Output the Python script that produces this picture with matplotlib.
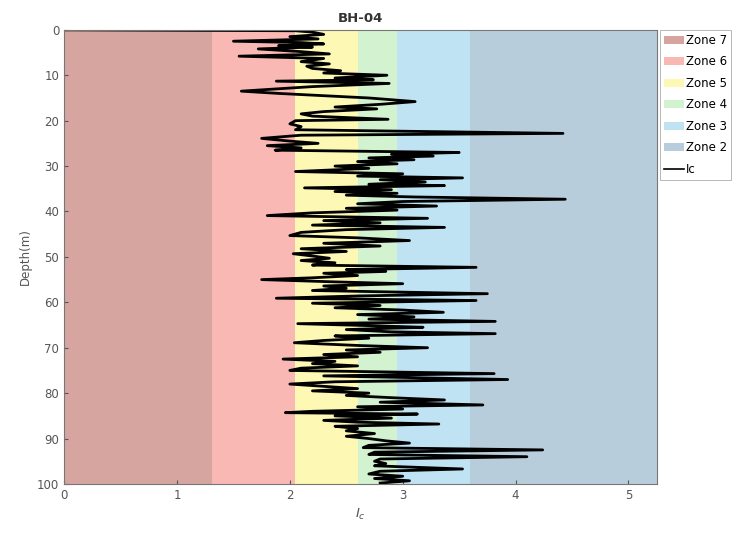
import matplotlib
matplotlib.use("Agg")
import matplotlib.pyplot as plt
from matplotlib.patches import Patch
from matplotlib.lines import Line2D

# Soil behaviour type zones (Robertson), Ic boundaries
zone_names = ["Zone 7", "Zone 6", "Zone 5", "Zone 4", "Zone 3", "Zone 2"]
zone_lo = [0.0, 1.31, 2.05, 2.60, 2.95, 3.60]
zone_hi = [1.31, 2.05, 2.60, 2.95, 3.60, 5.25]
zone_colors = ["#d6a5a0", "#f9b8b3", "#fdf8b4", "#d3f2cf", "#bfe3f2", "#b8cddb"]

# Ic profile
depth = [0.0, 0.2, 0.5, 1.0, 1.5, 2.0, 2.5, 2.8, 3.1, 3.5, 3.8, 4.2, 4.8, 5.3,
         5.8, 6.3, 7.0, 7.5, 8.0, 8.5, 9.0, 9.5, 10.0, 10.6, 11.0, 11.3, 11.8,
         12.5, 13.5, 14.0, 14.5, 15.0, 15.8, 16.4, 17.0, 17.4, 18.0, 18.5, 19.0,
         19.7, 20.0, 20.7, 21.3, 22.0, 22.8, 23.2, 23.9, 24.5, 25.0, 25.5, 26.0,
         26.5, 27.0, 27.4, 27.8, 28.2, 28.6, 29.0, 29.5, 30.0, 30.5, 31.2, 31.7,
         32.2, 32.6, 33.0, 33.5, 34.0, 34.3, 34.8, 35.2, 35.6, 36.0, 36.4, 36.8,
         37.3, 37.8, 38.3, 38.8, 39.3, 39.7, 40.3, 40.9, 41.5, 42.0, 42.5, 43.0,
         43.5, 44.0, 44.6, 45.3, 45.8, 46.4, 47.0, 47.6, 48.2, 48.8, 49.3, 49.8,
         50.3, 50.8, 51.3, 51.8, 52.3, 52.8, 53.2, 53.6, 54.1, 54.6, 55.0, 55.5,
         55.9, 56.4, 56.9, 57.4, 58.1, 58.6, 59.1, 59.6, 60.2, 60.7, 61.2, 61.7,
         62.2, 62.7, 63.2, 63.7, 64.2, 64.7, 65.2, 65.5, 66.0, 66.5, 66.9, 67.4,
         67.9, 68.4, 68.9, 69.5, 70.0, 70.5, 71.0, 71.5, 72.0, 72.5, 73.0, 73.5,
         74.0, 74.5, 75.0, 75.7, 76.2, 77.0, 77.5, 78.0, 78.5, 79.0, 79.5, 80.0,
         80.5, 81.0, 81.5, 82.0, 82.6, 83.0, 83.5, 84.0, 84.3, 84.6, 85.0, 85.5,
         86.0, 86.4, 86.8, 87.3, 87.8, 88.3, 88.9, 89.5, 90.0, 90.5, 91.0, 91.5,
         92.0, 92.5, 93.0, 93.5, 94.0, 94.5, 95.0, 95.5, 96.0, 96.7, 97.2, 97.8,
         98.3, 98.8, 99.3, 99.8]
ic = [0.0, 2.05, 2.2, 2.3, 2.0, 2.25, 1.5, 2.1, 2.3, 1.9, 2.2, 1.72, 2.1, 2.35,
      1.55, 2.3, 2.1, 2.35, 2.15, 2.2, 2.45, 2.3, 2.86, 2.4, 2.74, 1.88, 2.88,
      2.2, 1.57, 1.9, 2.3, 2.7, 3.11, 2.8, 2.4, 2.77, 2.3, 2.1, 2.2,
      2.87, 2.05, 2.0, 2.1, 2.05, 4.42, 2.1, 1.75, 2.0, 2.25, 1.8, 2.1,
      1.87, 3.5, 2.9, 3.27, 2.7, 3.1, 2.6, 2.95, 2.4, 2.7, 2.05, 3.0,
      2.6, 3.53, 2.8, 3.2, 2.7, 3.37, 2.13, 2.9, 2.4, 2.95, 2.5, 3.1,
      4.44, 3.0, 2.6, 3.3, 2.5, 2.95, 2.2, 1.8, 3.22, 2.3, 2.8, 2.2,
      3.37, 2.5, 2.1, 2.0, 2.6, 3.06, 2.3, 2.8, 2.1, 2.5, 2.03, 2.2,
      2.35, 2.1, 2.4, 2.2, 3.65, 2.5, 2.85, 2.3, 2.6, 2.2, 1.75, 2.4,
      3.0, 2.3, 2.5, 2.2, 3.75, 2.6, 1.88, 3.65, 2.2, 2.8, 2.4, 3.0,
      3.36, 2.6, 3.1, 2.7, 3.82, 2.07, 2.8, 3.18, 2.5, 2.9, 3.82, 2.4,
      2.7, 2.3, 2.04, 2.6, 3.22, 2.5, 2.8, 2.3, 2.6, 1.94, 2.4, 2.2,
      2.6, 2.1, 2.0, 3.81, 2.3, 3.93, 2.4, 2.0, 2.3, 2.6, 2.2, 2.7,
      2.5, 2.9, 3.37, 2.8, 3.71, 2.6, 3.0, 2.2, 1.96, 3.13, 2.4, 2.9,
      2.3, 2.6, 3.32, 2.4, 2.6, 2.5, 2.75, 2.5, 2.7, 2.85, 3.06, 2.7,
      2.65, 4.24, 2.75, 2.7, 4.1, 2.8, 2.75, 2.85, 2.75, 3.53, 2.8, 2.7,
      3.0, 2.75, 3.06, 2.8]

fig = plt.figure(figsize=(7.37, 5.33), dpi=100)
ax = fig.add_axes([0.087, 0.092, 0.804, 0.852])

handles = []
for name, lo, hi, col in zip(zone_names, zone_lo, zone_hi, zone_colors):
    ax.axvspan(lo, hi, color=col, lw=0)
    handles.append(Patch(facecolor=col, edgecolor="none", label=name))

ax.plot(ic, depth, color="black", lw=2.0)
handles.append(Line2D([0], [0], color="black", lw=1.2, label="Ic"))

ax.set_xlim(0, 5.25)
ax.set_ylim(100, 0)
ax.set_xticks([0, 1, 2, 3, 4, 5])
ax.set_yticks(range(0, 101, 10))
ax.tick_params(direction="in", labelsize=8.5, colors="#555555", length=3)
for s in ax.spines.values():
    s.set_color("#777777")
    s.set_linewidth(0.8)

ax.set_xlabel("$I_c$", fontsize=9.5, color="#555555")
ax.set_ylabel("Depth(m)", fontsize=8.5, color="#555555")
ax.set_title("BH-04", fontsize=9.5, fontweight="bold", color="#333333", pad=6)

leg = ax.legend(handles=handles, loc="upper left", bbox_to_anchor=(1.005, 1.0),
                fontsize=8.5, frameon=True, fancybox=False, borderaxespad=0,
                handlelength=1.7, handletextpad=0.2, labelspacing=0.72,
                borderpad=0.35)
leg.get_frame().set_edgecolor("#999999")
leg.get_frame().set_linewidth(0.6)

fig.savefig("out.png", dpi=100)
